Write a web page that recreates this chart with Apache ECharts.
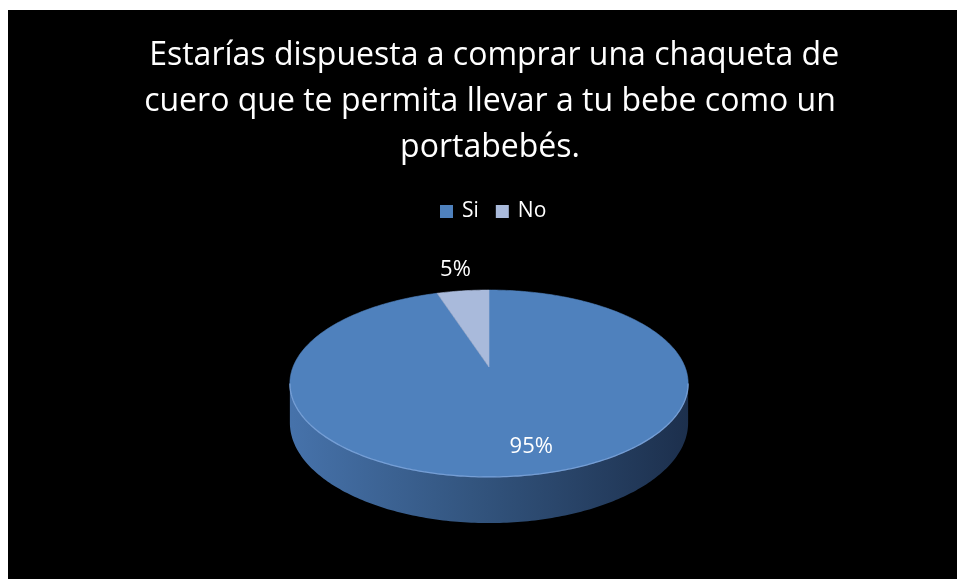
<!DOCTYPE html>
<html><head><meta charset="utf-8">
<script src="https://cdn.jsdelivr.net/npm/echarts@6/dist/echarts.min.js"></script>
<style>html,body{margin:0;padding:0;background:#fff}#c{width:957px;height:579px}</style>
</head><body><div id="c"></div>
<script>
// ---- data ----
const titleLines = [' Estarías dispuesta a comprar una chaqueta de', 'cuero que te permita llevar a tu bebe como un', 'portabebés.'];
const categories = ['Si', 'No'];
const values = [95, 5];

// ---- style ----
const sliceColors = ['#4f81bd', '#a9badb'];
const G = { cx: 489, cy: 367, r: 196, k: 0.462, d: 5.67, depth: 38 };
const FONT = '"Open Sans"';

const total = values.reduce((a, b) => a + b, 0);
const starts = []; let acc = 0; values.forEach(v => { starts.push(acc); acc += v; });
const A_L = Math.acos(-1 / G.d), A_R = 2 * Math.PI - A_L; // silhouette angles

function proj(a, rf, h) {
  const x = rf * Math.sin(a), z = rf * Math.cos(a);
  const f = G.d / (G.d + z);
  return [G.cx + G.r * x * f, G.cy - G.r * G.k * z * f + (h || 0) * f];
}
function angles(i, v) {
  return [starts[i] / total * 2 * Math.PI, (starts[i] + v) / total * 2 * Math.PI];
}
function arcPts(a1, a2, h) {
  const pts = []; const n = Math.max(4, Math.ceil(Math.abs(a2 - a1) / 0.015));
  for (let j = 0; j <= n; j++) pts.push(proj(a1 + (a2 - a1) * j / n, 1, h));
  return pts;
}

function renderSide(params, api) {
  const i = params.dataIndex, v = api.value(0);
  const [a1, a2] = angles(i, v);
  const s = Math.max(a1, A_L), e = Math.min(a2, A_R);
  if (e <= s) return { type: 'group', children: [] };
  const top = arcPts(s, e, 0), bot = arcPts(e, s, G.depth);
  return {
    type: 'polygon', shape: { points: top.concat(bot) },
    style: {
      fill: i === 0 ? new echarts.graphic.LinearGradient(292, 0, 690, 0, [
        { offset: 0, color: '#4672aa' }, { offset: 0.45, color: '#33557f' }, { offset: 1, color: '#1c2f4c' }], true)
        : '#7d8fae'
    }
  };
}

function renderTop(params, api) {
  const i = params.dataIndex, v = api.value(0);
  const [a1, a2] = angles(i, v);
  const pts = [proj(0, 0)].concat(arcPts(a1, a2, 0));
  const children = [{
    type: 'polygon', shape: { points: pts },
    style: { fill: sliceColors[i], stroke: sliceColors[i], lineWidth: 0.6 }
  }];
  const s = Math.max(a1, A_L), e = Math.min(a2, A_R);
  if (e > s) {
    children.push({ type: 'polyline', shape: { points: arcPts(s, e, 0) },
      style: { stroke: 'rgba(130,170,225,0.8)', lineWidth: 1.3, fill: null } });
  }
  const share = v / total;
  const mid = (a1 + a2) / 2;
  const inside = share >= 0.25;
  const p = proj(mid, inside ? 0.77 : 1.35, 0);
  children.push({
    type: 'text', x: p[0] + (inside ? 15 : 0), y: p[1],
    style: { text: Math.round(share * 100) + '%', fill: '#fff', font: '22px ' + FONT, align: 'center', verticalAlign: 'middle' }
  });
  return { type: 'group', children };
}

const chart = echarts.init(document.getElementById('c'), null, { renderer: 'canvas' });
chart.setOption({
  backgroundColor: '#fff',
  animation: false,
  graphic: [{ type: 'rect', shape: { x: 8, y: 10, width: 949, height: 569 }, style: { fill: '#000' }, z: -10, silent: true }],
  title: {
    text: titleLines.join('\n'), left: 490, textAlign: 'center', top: 33, padding: 0,
    textStyle: { color: '#fff', fontFamily: FONT, fontSize: 32, fontWeight: 'normal', lineHeight: 46 }
  },
  legend: {
    data: categories, left: 440, top: 201, padding: 0,
    icon: 'rect', itemWidth: 13, itemHeight: 13, itemGap: 17, selectedMode: false,
    textStyle: { color: '#fff', fontFamily: FONT, fontSize: 21, padding: [0, 0, 0, 4] }
  },
  series: [
    { type: 'pie', name: 'legend', radius: [0, 0], center: [G.cx, G.cy], silent: true, label: { show: false }, labelLine: { show: false },
      data: categories.map((c, i) => ({ name: c, value: values[i], itemStyle: { color: sliceColors[i] } })) },
    { type: 'custom', name: 'sides', coordinateSystem: 'none', z: 1, silent: true, renderItem: renderSide,
      data: values.map((v, i) => ({ name: categories[i], value: [v] })) },
    { type: 'custom', name: 'tops', coordinateSystem: 'none', z: 2, silent: true, renderItem: renderTop,
      data: values.map((v, i) => ({ name: categories[i], value: [v] })) }
  ]
});
</script></body></html>
